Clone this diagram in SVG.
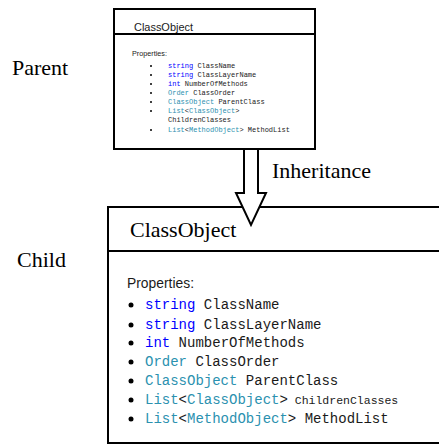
<svg xmlns="http://www.w3.org/2000/svg" width="439" height="445" viewBox="0 0 439 445">
<style>
.box{fill:#fff;stroke:#000;stroke-width:2}
.ln{stroke:#000;stroke-width:2}
.serif{font-family:"Liberation Serif","Times New Roman",serif;fill:#000}
.sans{font-family:"Liberation Sans",Arial,sans-serif;fill:#1a1a1a}
.mono{font-family:"Liberation Mono","Courier New",monospace;fill:#1a1a1a}
.kw{fill:#0000ff}
.ty{fill:#2b91af}
.b{fill:#000}
</style>
<rect width="439" height="445" fill="#fff"/>
<text class="serif" x="12" y="75" font-size="22">Parent</text>
<text class="serif" x="17" y="267" font-size="22">Child</text>

<g id="parent">
<rect class="box" x="114" y="9" width="201" height="140"/>
<line class="ln" x1="114" y1="34" x2="315" y2="34"/>
<text class="sans" x="134" y="31" font-size="11" textLength="59" lengthAdjust="spacingAndGlyphs">ClassObject</text>
<text class="sans" x="132" y="56" font-size="7" textLength="35" lengthAdjust="spacingAndGlyphs">Properties:</text>
<g class="mono" font-size="7">
<circle class="b" cx="151" cy="66" r="1"/>
<text x="168" y="68"><tspan class="kw">string</tspan> ClassName</text>
<circle class="b" cx="151" cy="75" r="1"/>
<text x="168" y="77"><tspan class="kw">string</tspan> ClassLayerName</text>
<circle class="b" cx="151" cy="84" r="1"/>
<text x="168" y="86"><tspan class="kw">int</tspan> NumberOfMethods</text>
<circle class="b" cx="151" cy="93" r="1"/>
<text x="168" y="95"><tspan class="ty">Order</tspan> ClassOrder</text>
<circle class="b" cx="151" cy="102" r="1"/>
<text x="168" y="104"><tspan class="ty">ClassObject</tspan> ParentClass</text>
<circle class="b" cx="151" cy="111" r="1"/>
<text x="168" y="113"><tspan class="ty">List</tspan>&lt;<tspan class="ty">ClassObject</tspan>&gt;</text>
<text x="168" y="122">ChildrenClasses</text>
<circle class="b" cx="151" cy="130" r="1"/>
<text x="168" y="132"><tspan class="ty">List</tspan>&lt;<tspan class="ty">MethodObject</tspan>&gt; MethodList</text>
</g>
</g>

<g id="child">
<rect class="box" x="108" y="207" width="340" height="236"/>
<line class="ln" x1="108" y1="251" x2="439" y2="251"/>
<text class="serif" x="130" y="237" font-size="22">ClassObject</text>
<text class="sans" x="127" y="288" font-size="14" textLength="67" lengthAdjust="spacingAndGlyphs">Properties:</text>
<g class="mono" font-size="14">
<circle class="b" cx="131" cy="305" r="2.5"/>
<text x="145" y="309"><tspan class="kw">string</tspan> ClassName</text>
<circle class="b" cx="131" cy="325" r="2.5"/>
<text x="145" y="329"><tspan class="kw">string</tspan> ClassLayerName</text>
<circle class="b" cx="131" cy="343" r="2.5"/>
<text x="145" y="347"><tspan class="kw">int</tspan> NumberOfMethods</text>
<circle class="b" cx="131" cy="362" r="2.5"/>
<text x="145" y="366"><tspan class="ty">Order</tspan> ClassOrder</text>
<circle class="b" cx="131" cy="381" r="2.5"/>
<text x="145" y="385"><tspan class="ty">ClassObject</tspan> ParentClass</text>
<circle class="b" cx="131" cy="400" r="2.5"/>
<text x="145" y="404"><tspan class="ty">List</tspan>&lt;<tspan class="ty">ClassObject</tspan>&gt;<tspan font-size="11.5"> ChildrenClasses</tspan></text>
<circle class="b" cx="131" cy="419" r="2.5"/>
<text x="145" y="423"><tspan class="ty">List</tspan>&lt;<tspan class="ty">MethodObject</tspan>&gt; MethodList</text>
</g>
</g>

<g id="connectors">
<polygon class="box" points="244,149 244,193 236,193 251,225 266,193 258,193 258,149"/>
<text class="serif" x="272" y="178" font-size="22">Inheritance</text>
</g>
</svg>
